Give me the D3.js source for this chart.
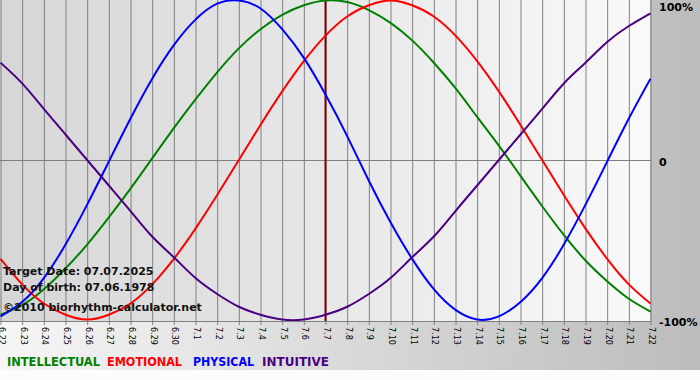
<!DOCTYPE html>
<html>
<head>
<meta charset="utf-8">
<script src="https://cdn.jsdelivr.net/npm/d3@7"></script>
<style>
  html, body { margin: 0; padding: 0; background: #fcfcfc; }
  svg { display: block; }
</style>
</head>
<body>
<svg id="chart" width="700" height="380"></svg>
<script>
// ---- data ----
const days = ["6.22","6.23","6.24","6.25","6.26","6.27","6.28","6.29","6.30",
  "7.1","7.2","7.3","7.4","7.5","7.6","7.7","7.8","7.9","7.10","7.11","7.12",
  "7.13","7.14","7.15","7.16","7.17","7.18","7.19","7.20","7.21","7.22"];
const intellectual = [-97,-91,-81,-68,-53,-36,-18,1,20,38,55,70,82,91,97,100,99,94,86,75,61,45,27,9,-10,-29,-47,-63,-76,-87,-95];
const emotional    = [-62,-78,-90,-97,-100,-97,-90,-78,-62,-43,-22,0,22,43,62,78,90,97,100,97,90,78,62,43,22,0,-22,-43,-62,-78,-90];
const physical     = [-98,-89,-74,-53,-28,-1,26,51,72,88,98,100,95,82,64,41,15,-13,-39,-62,-81,-94,-100,-98,-89,-74,-53,-28,-1,26,51];
const intuitive    = [61,48,32,16,0,-16,-32,-48,-61,-74,-84,-92,-97,-100,-100,-97,-92,-84,-74,-61,-48,-32,-16,0,16,32,48,61,74,84,92];
const targetDay = "7.7";
const yTicks = [100, 0, -100];
const yTickLabels = ["100%", "0", "-100%"];
const infoLines = ["Target Date: 07.07.2025", "Day of birth: 07.06.1978", "\u00a92010 biorhythm-calculator.net"];
const legendNames = ["INTELLECTUAL", "EMOTIONAL", "PHYSICAL", "INTUITIVE"];

// ---- drawing ----
const svg = d3.select("#chart");
const W = 700, H = 380;
const plotL = 0, plotR = 650, plotT = 0, plotB = 321;

const defs = svg.append("defs");
const g1 = defs.append("linearGradient").attr("id", "panelGrad").attr("x1", 0).attr("x2", 1).attr("y1", 0).attr("y2", 0);
g1.append("stop").attr("offset", "0%").attr("stop-color", "#f6f6f6");
g1.append("stop").attr("offset", "100%").attr("stop-color", "#bcbcbc");
const g2 = defs.append("linearGradient").attr("id", "plotGrad").attr("x1", 0).attr("x2", 1).attr("y1", 0).attr("y2", 0);
g2.append("stop").attr("offset", "0%").attr("stop-color", "#d6d6d6");
g2.append("stop").attr("offset", "100%").attr("stop-color", "#f9f9f9");
defs.append("clipPath").attr("id", "plotClip").append("rect")
  .attr("x", plotL).attr("y", plotT).attr("width", plotR - plotL + 1).attr("height", plotB - plotT);

svg.append("rect").attr("x", 0).attr("y", 0).attr("width", W).attr("height", H).attr("fill", "#fcfcfc");
svg.append("rect").attr("x", 0).attr("y", 0).attr("width", W).attr("height", 370).attr("fill", "url(#panelGrad)");
svg.append("rect").attr("x", plotL).attr("y", plotT).attr("width", plotR - plotL).attr("height", plotB - plotT).attr("fill", "url(#plotGrad)");

const x = d3.scalePoint().domain(days).range([plotL + 0.5, plotR + 0.5]);
const y = d3.scaleLinear().domain([-100, 100]).range([319.5, 0.5]);

// vertical grid + ticks + labels via axis
const xAxis = d3.axisBottom(x).tickSize(plotB + 4).tickSizeOuter(0).tickFormat(d => d);
const gx = svg.append("g").attr("transform", `translate(0,${plotT})`).call(xAxis);
gx.select(".domain").remove();
gx.selectAll(".tick line").attr("stroke", "#808080").attr("stroke-width", 1);
gx.selectAll(".tick text")
  .attr("fill", "#000")
  .attr("font-family", "'DejaVu Sans', Verdana, sans-serif")
  .attr("font-size", 8)
  .attr("text-anchor", "start")
  .attr("dy", null)
  .attr("y", null)
  .attr("dominant-baseline", "central")
  .attr("transform", "translate(0.5,327) rotate(90)");

// horizontal lines: zero and bottom
svg.append("line").attr("x1", plotL).attr("x2", plotR + 1).attr("y1", 160.5).attr("y2", 160.5).attr("stroke", "#808080");
svg.append("line").attr("x1", plotL).attr("x2", plotR + 1).attr("y1", plotB + 0.5).attr("y2", plotB + 0.5).attr("stroke", "#808080");

// right-side y labels
const yLabelY = [11, 166, 326];
svg.append("g").selectAll("text").data(yTicks).join("text")
  .attr("x", d => d === 0 ? 659 : (d < 0 ? 659 : 659))
  .attr("y", (d, i) => yLabelY[i])
  .attr("font-family", "'DejaVu Sans', Verdana, sans-serif")
  .attr("font-weight", "bold").attr("font-size", 11).attr("fill", "#000")
  .text((d, i) => yTickLabels[i]);

// target day line
svg.append("line").attr("x1", x(targetDay)).attr("x2", x(targetDay))
  .attr("y1", plotT).attr("y2", plotB).attr("stroke", "#800000").attr("stroke-width", 2);

// curves
const series = [
  { name: legendNames[0], values: intellectual, color: "#008000" },
  { name: legendNames[1], values: emotional, color: "#ff0000" },
  { name: legendNames[2], values: physical, color: "#0000ff" },
  { name: legendNames[3], values: intuitive, color: "#4b0082" }
];
const line = d3.line().x((d, i) => x(days[i])).y(d => y(d)).curve(d3.curveNatural);
const gc = svg.append("g").attr("clip-path", "url(#plotClip)");
gc.selectAll("path").data(series).join("path")
  .attr("d", d => line(d.values))
  .attr("fill", "none").attr("stroke", d => d.color).attr("stroke-width", 2);

// info text
const infoY = [275, 291, 311];
svg.append("g").selectAll("text").data(infoLines).join("text")
  .attr("x", 3).attr("y", (d, i) => infoY[i])
  .attr("font-family", "'DejaVu Sans', Verdana, sans-serif")
  .attr("font-weight", "bold").attr("font-size", 11).attr("fill", "#111")
  .text(d => d);

// legend
const legX = [7, 107, 193, 262];
const legW = [93, 75, 61, 67];
svg.append("g").selectAll("text").data(series).join("text")
  .attr("x", (d, i) => legX[i]).attr("y", 366)
  .attr("font-family", "'DejaVu Sans', Verdana, sans-serif")
  .attr("font-weight", "bold").attr("font-size", 11.5)
  .attr("textLength", (d, i) => legW[i]).attr("lengthAdjust", "spacingAndGlyphs")
  .attr("fill", d => d.color)
  .text(d => d.name);
</script>
</body>
</html>
